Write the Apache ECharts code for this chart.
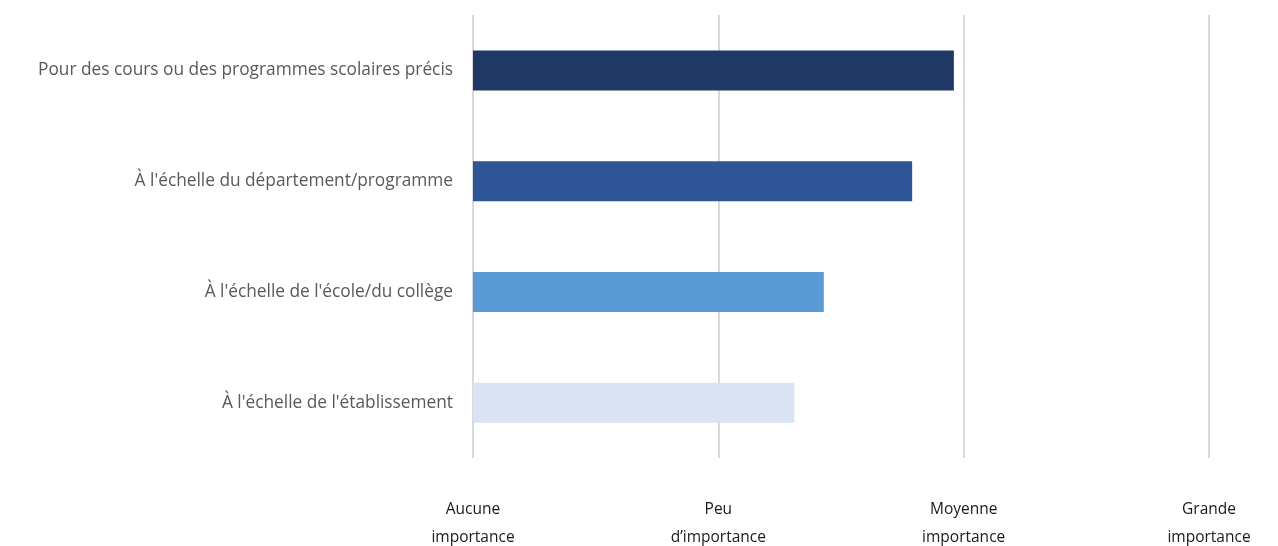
<!DOCTYPE html>
<html>
<head>
<meta charset="utf-8">
<script src="https://cdn.jsdelivr.net/npm/echarts@6/dist/echarts.min.js"></script>
<style>
  html, body { margin: 0; padding: 0; background: #fff; }
  #chart { width: 1278px; height: 546px; }
</style>
</head>
<body>
<div id="chart"></div>
<script>
// Levels of use (top to bottom) and their mean importance score (1–4)
const categories = [
  "Pour des cours ou des programmes scolaires précis",
  "À l'échelle du département/programme",
  "À l'échelle de l'école/du collège",
  "À l'échelle de l'établissement"
];
const values = [2.96, 2.79, 2.43, 2.31];
const barColors = ["#203864", "#2f5597", "#5b9bd5", "#dae3f3"];

// Scale labels for scores 1..4
const scaleLabels = {
  1: "Aucune\nimportance",
  2: "Peu\nd’importance",
  3: "Moyenne\nimportance",
  4: "Grande\nimportance"
};

const chart = echarts.init(document.getElementById("chart"));
chart.setOption({
  animation: false,
  grid: {
    left: 473, right: 69, top: 15, bottom: 88,
    containLabel: false,
    outerBoundsMode: "none"
  },
  xAxis: {
    type: "value",
    min: 1,
    max: 4,
    interval: 1,
    axisLine: { show: false },
    axisTick: { show: false },
    splitLine: { show: true, lineStyle: { color: "#d9d9d9", width: 2 } },
    axisLabel: {
      margin: 38,
      color: "#1a1a1a",
      fontFamily: "Open Sans",
      fontSize: 15.5,
      lineHeight: 28,
      formatter: v => scaleLabels[v] || ""
    }
  },
  yAxis: {
    type: "category",
    inverse: true,
    data: categories,
    axisLine: { show: false },
    axisTick: { show: false },
    axisLabel: {
      margin: 20,
      color: "#595959",
      fontFamily: "Open Sans",
      fontSize: 17.3
    }
  },
  series: [{
    type: "bar",
    barWidth: 40,
    data: values.map((v, i) => ({ value: v, itemStyle: { color: barColors[i] } }))
  }]
});
</script>
</body>
</html>
